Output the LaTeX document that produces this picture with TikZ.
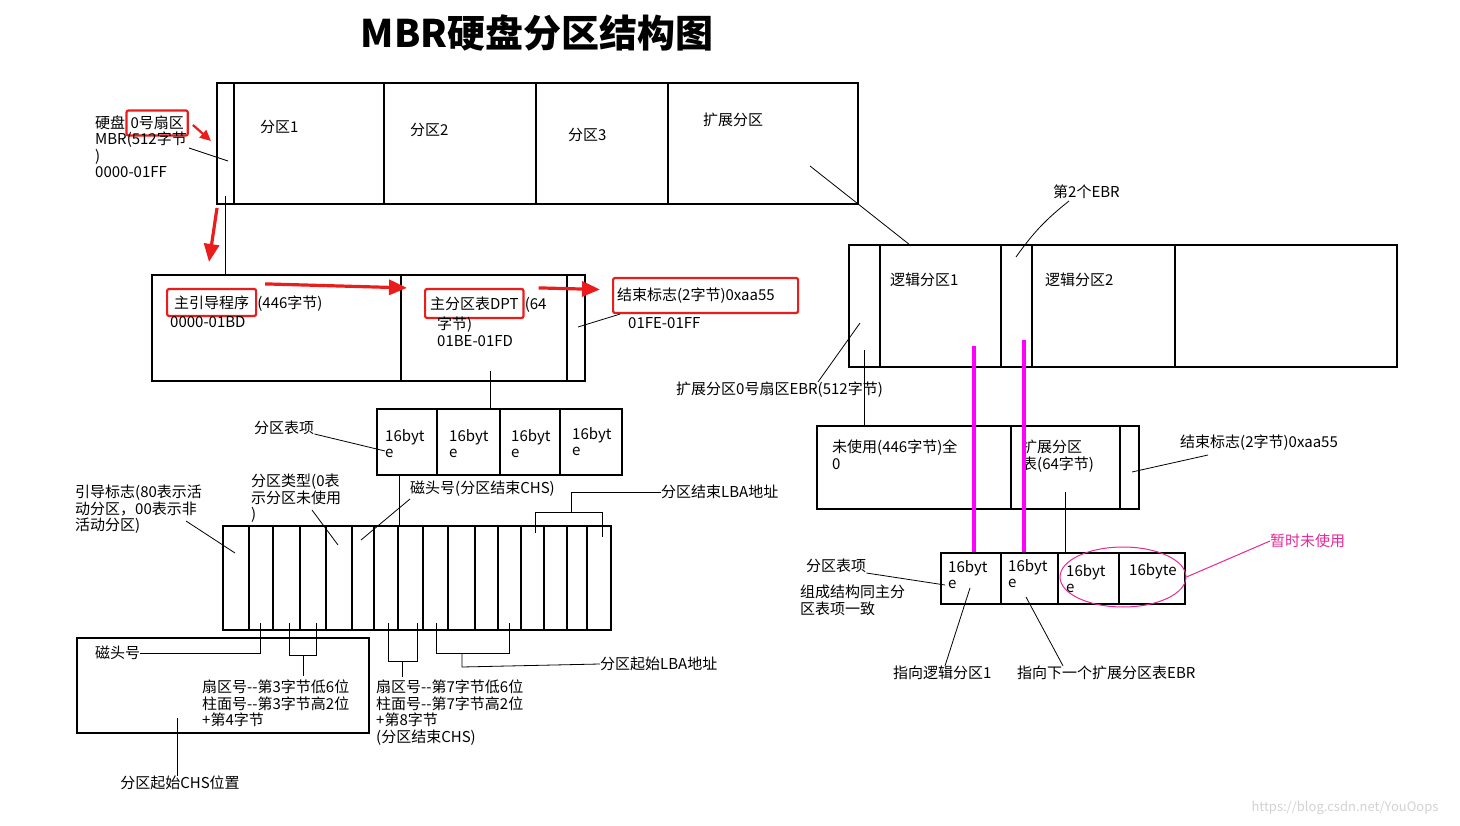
\documentclass[tikz,border=0pt]{standalone}
\usepackage{fontspec}
\setmainfont{Noto Sans CJK SC}
\usetikzlibrary{arrows.meta,positioning,shapes.geometric}
\definecolor{mark}{RGB}{235,28,28}
\definecolor{ptr}{RGB}{255,0,255}
\definecolor{note}{RGB}{232,40,150}

\begin{document}
\begin{tikzpicture}[
  x=1pt, y=-1pt, >=Latex,
  every node/.style={font=\fontsize{15}{16.5}\selectfont, inner sep=0pt},
  box/.style 2 args={draw, line width=1.2pt, minimum width=#1, minimum height=#2},
  txt/.style={anchor=west},
  par/.style={anchor=north west, align=left},
  lead/.style={line width=0.8pt},
  div/.style={line width=1.2pt},
  redbox/.style={draw=mark, line width=2.2pt, rounded corners=2pt,
                 inner xsep=4pt, inner ysep=5pt},
  redarr/.style={draw=mark, line width=3.2pt, -{Triangle[length=18pt, width=15pt]}},
  ptrline/.style={draw=ptr, line width=4.5pt}
]
\useasboundingbox (0,0) rectangle (1460,826);

% title
\node[font=\fontsize{38}{42}\selectfont\bfseries] (title) at (537,33) {MBR硬盘分区结构图};

% whole disk
\node[box={641pt}{121pt}] (disk) at (537.5,143.5) {};
\foreach \x in {234,384,536,668}
  \draw[div] (\x,83) -- (\x,204);
\node[txt] (p1) at (260,127) {分区1};
\node[txt] (p2) at (410,130) {分区2};
\node[txt] (p3) at (568,135) {分区3};
\node[txt] (pext) at (703,120) {扩展分区};

% sector 0 label
\node[txt] (hd) at (95,123) {硬盘};
\node[redbox, minimum height=25pt, right=0pt of hd] (sec0) {0号扇区};
\node[par] (mbrl) at (95,132) {MBR(512字节\\)\\0000-01FF};
\coordinate (mbrin) at (228,161);
\coordinate (mbrtip) at (211,141);
\coordinate (mbrtop) at (225,196);
\coordinate (downtip) at (209,262);
\draw[lead] ([xshift=2pt,yshift=-16pt]mbrl.north east) -- (mbrin);
\draw[redarr, line width=2.2pt, -{Triangle[length=11pt, width=10pt]}]
  ([xshift=4pt,yshift=-2pt]sec0.east) -- (mbrtip);
\draw[redarr] (217,208) -- (downtip);

% MBR sector
\node[box={433pt}{106pt}] (mbr) at (368.5,328) {};
\foreach \x in {401,567}
  \draw[div] (\x,275) -- (\x,381);
\draw[lead] (mbrtop) -- (mbrtop |- mbr.north);

\node[redbox, inner xsep=7pt, minimum height=27pt, anchor=west] (boot) at (166,302.5) {主引导程序};
\node[anchor=base west] (bootn) at (boot.base east) {(446字节)};
\node[txt] (bootr) at (170,322) {0000-01BD};
\node[redbox, inner xsep=5pt, minimum height=29pt, anchor=west] (dptk) at (424,303.5) {主分区表DPT};
\node[anchor=base west] (dptn) at (dptk.base east) {(64};
\node[par] (dptr) at (437,317) {字节)\\01BE-01FD};
\node[redbox, text width=177pt, align=left, minimum height=35pt, anchor=west] (endf) at (612,295.5) {结束标志(2字节)0xaa55};
\node[txt] (endr) at (628,323) {01FE-01FF};
\coordinate (endin) at (578,327);
\draw[lead] (endin) -- ([xshift=8pt]endf.south west);
\draw[redarr] ([xshift=8pt,yshift=4pt]boot.north east) -- ([xshift=-17pt]dptk.north west);
\draw[redarr] ([xshift=14pt]dptk.north east) -- ([xshift=-12pt,yshift=6pt]endf.west);

% partition table, 4 entries
\node[box={245pt}{66pt}] (ptab) at (499.5,442) {};
\foreach \x in {437,500,560}
  \draw[div] (\x,409) -- (\x,475);
\foreach \x/\y [count=\i] in {385/429,449/429,511/429,572/427}
  \node[par] (pe\i) at (\x,\y) {16byt\\e};
\coordinate (dptout) at (490,371);
\draw[lead] (dptout) -- (dptout |- ptab.north);
\node[txt] (ptl) at (254,428) {分区表项};
\coordinate (ptin) at (385,451);
\draw[lead] ([yshift=-6pt]ptl.east) -- (ptin);

% one entry, 16 bytes
\node[box={388pt}{104pt}] (ent) at (417,578) {};
\foreach \x in {249,273,300,326,352,374,398,423,448,475,498,521,544,567,587}
  \draw[div] (\x,526) -- (\x,630);
\coordinate (pe1out) at (399,475);
\draw[lead] (pe1out) -- (pe1out |- ent.north);

\node[par] (bootf) at (75,485) {引导标志(80表示活\\动分区，00表示非\\活动分区)};
\coordinate (bootfin) at (235,553);
\draw[lead] (186,521) -- (bootfin);
\node[par] (ptype) at (251,474) {分区类型(0表\\示分区未使用\\)};
\coordinate (ptypein) at (338,545);
\draw[lead] (312,510) -- (ptypein);
\node[txt] (ehead) at (410,489) {磁头号(分区结束CHS)};
\coordinate (eheadin) at (361,540);
\draw[lead] ([yshift=-10pt]ehead.west) -- (eheadin);

\node[txt] (elba) at (661,492) {分区结束LBA地址};
\coordinate (elbaa) at (535,533);
\coordinate (elbab) at (602,537);
\draw[lead] (elbaa) -- (535,512) -- (602,512) -- (elbab);
\draw[lead] (571,512) -- (571,492) -- (elba.west);

% start CHS
\node[box={292pt}{95pt}] (chs) at (223,685.5) {};
\node[txt] (shead) at (95,653) {磁头号};
\coordinate (sheadin) at (260,623);
\draw[lead] (shead.east) -- (sheadin |- shead.east) -- (sheadin);
\node[par] (ssec) at (202,680) {扇区号{-}{-}第3字节低6位\\柱面号{-}{-}第3字节高2位\\+第4字节};
\coordinate (ssa) at (289,623);
\coordinate (ssb) at (316,623);
\draw[lead] (ssa) -- (289,655) -- (316,655) -- (ssb);
\draw[lead] (303,655) -- (303,676);
\node[par] (esec) at (376,680) {扇区号{-}{-}第7字节低6位\\柱面号{-}{-}第7字节高2位\\+第8字节\\(分区结束CHS)};
\coordinate (esa) at (388,623);
\coordinate (esb) at (417,623);
\draw[lead] (esa) -- (388,661) -- (417,661) -- (esb);
\draw[lead] (402,661) -- (402,677);
\node[txt] (slba) at (600,664) {分区起始LBA地址};
\coordinate (slbaa) at (436,623);
\coordinate (slbab) at (509,623);
\draw[lead] (slbaa) -- (436,653) -- (509,653) -- (slbab);
\draw[lead] (462,653) -- (462,667) -- (slba.west);
\node (schs) at (180,783) {分区起始CHS位置};
\coordinate (chsin) at (177,718);
\draw[lead] (chsin) -- (chsin |- schs.north);

% extended partition
\node[box={548pt}{122pt}] (ebr) at (1123,306) {};
\foreach \x in {880,1001,1032,1175}
  \draw[div] (\x,245) -- (\x,367);
\coordinate (extin) at (810,166);
\draw[lead] (extin) -- (910,245);
\node[txt] (l1) at (890,280) {逻辑分区1};
\node[txt] (l2) at (1045,280) {逻辑分区2};
\node[txt] (ebr2) at (1053,192) {第2个EBR};
\coordinate (ebr2in) at (1016,257);
\draw[lead] ([xshift=16pt,yshift=-9pt]ebr2.west) to[bend right=8] (ebr2in);
\node[txt] (ebr0) at (676,390) {扩展分区0号扇区EBR(512字节)};
\coordinate (ebr0in) at (860,323);
\draw[lead] (818,382) -- (ebr0in);

% EBR sector
\node[box={322pt}{83pt}] (ebrs) at (978,467.5) {};
\foreach \x in {1011,1120}
  \draw[div] (\x,426) -- (\x,509);
\coordinate (ebrout) at (864,350);
\draw[lead] (ebrout) -- (ebrout |- ebrs.north);
\node[par] (unused) at (832,440) {未使用(446字节)全\\0};
\node[par] (etabl) at (1022,440) {扩展分区\\表(64字节)};
\node[txt] (ebrend) at (1180,443) {结束标志(2字节)0xaa55};
\coordinate (ebrendin) at (1132,472);
\draw[lead] ([xshift=28pt,yshift=-12pt]ebrend.west) -- (ebrendin);

% EBR partition table
\node[box={244pt}{51pt}] (etab) at (1063,578.5) {};
\foreach \x in {1001,1058,1119}
  \draw[div] (\x,553) -- (\x,604);
\coordinate (etabin) at (1065,492);
\draw[lead] (etabin) -- (etabin |- etab.north);
\node[par] (ee1) at (948,560) {16byt\\e};
\node[par] (ee2) at (1008,559) {16byt\\e};
\node[par] (ee3) at (1066,564) {16byt\\e};
\node[txt] (ee4) at (1129,571) {16byte};
\node[ellipse, draw=note, line width=1pt, minimum width=126pt, minimum height=60pt] (spare) at (1123,577) {};
\node[txt, text=note] (sparel) at (1270,541) {暂时未使用};
\draw[note, line width=1pt] (spare.east) -- (sparel.west);

\node[txt] (etl) at (806,566) {分区表项};
\coordinate (etlin) at (945,585);
\draw[lead] ([yshift=-7pt]etl.east) -- (etlin);
\node[par] (etsame) at (800,585) {组成结构同主分\\区表项一致};
\node[txt] (tol1) at (893,673) {指向逻辑分区1};
\coordinate (tol1in) at (970,588);
\draw[lead] (tol1in) -- ([xshift=52pt]tol1.north west);
\node[txt] (tonext) at (1017,673) {指向下一个扩展分区表EBR};
\coordinate (tonextin) at (1026,597);
\draw[lead] (tonextin) -- ([xshift=46pt]tonext.north west);

% pointers into the extended partition
\coordinate (ptr1) at (974,346);
\coordinate (ptr2) at (1024,340);
\draw[ptrline] (ptr1) -- (ptr1 |- etab.north);
\draw[ptrline] (ptr2) -- (ptr2 |- etab.north);

\node[text=gray!35, font=\fontsize{13}{15}\selectfont] (wm) at (1345,808) {https://blog.csdn.net/YouOops};
\end{tikzpicture}
\end{document}
